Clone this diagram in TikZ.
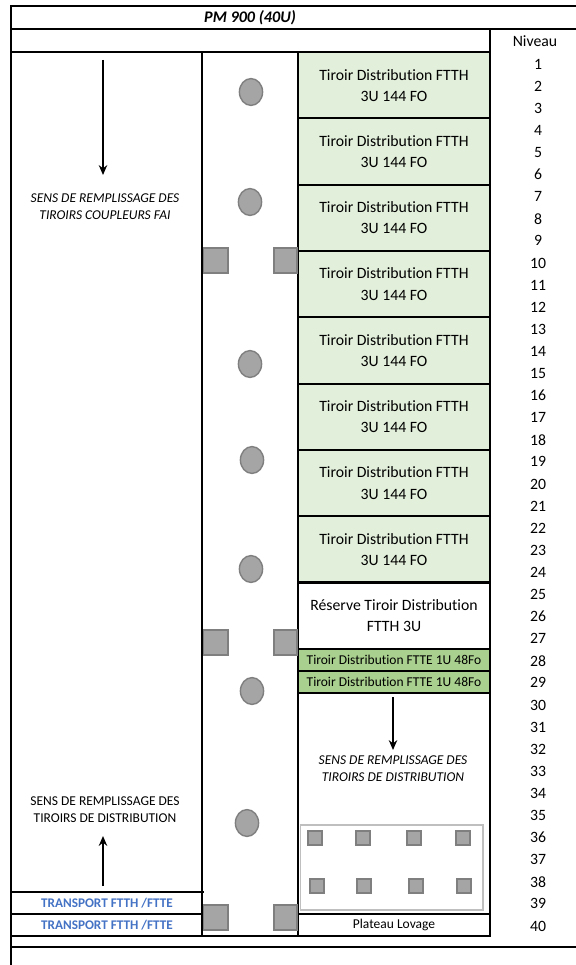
\documentclass[tikz,border=0pt]{standalone}
\usepackage{fontspec}
\setmainfont[Ligatures=NoCommon]{Carlito}
\usepackage{tikz}
\usetikzlibrary{arrows.meta,positioning}
\definecolor{ftth}{HTML}{E2EFDA}
\definecolor{ftte}{HTML}{A9D08E}
\definecolor{gris}{HTML}{A5A5A5}
\definecolor{grisfonce}{HTML}{7F7F7F}
\definecolor{grisclair}{HTML}{BFBFBF}
\definecolor{bleu}{HTML}{4472C4}

\begin{document}
\begin{tikzpicture}[x=0.025cm,y=-0.025cm,node distance=0pt,>=Stealth,
trait/.style={line width=1.5pt},
fleche/.style={-{Stealth[length=7pt,width=6pt]},line width=1.4pt},
tiroir/.style={draw,line width=1.5pt,outer sep=0pt,inner sep=0pt,align=center,minimum width=4.8cm,font=\fontsize{11.2}{15}\selectfont},
ftthbox/.style={tiroir,fill=ftth,minimum height=1.6575cm},
fttebox/.style={tiroir,fill=ftte,minimum height=0.5525cm,font=\fontsize{9.6}{11}\selectfont},
sens/.style={align=center,font=\fontsize{9.6}{12}\selectfont},
transport/.style={font=\bfseries\fontsize{9.4}{11}\selectfont,text=bleu},
passe/.style={fill=gris,draw=grisfonce,line width=1pt},
niv/.style={font=\fontsize{11.2}{13}\selectfont}]
\useasboundingbox (0,0) rectangle (576,965);
% cadre
\draw[trait] (11,965)--(11,6)--(576,6);
\draw[trait] (11,29)--(576,29);
\draw[trait] (11,52)--(490,52);
\draw[trait] (490,29)--(490,936);
\draw[trait] (202,52)--(202,936);
\draw[trait] (298,52)--(298,936);
\draw[trait] (11,936)--(490,936);
\draw[trait] (11,947)--(576,947);
\node[font=\bfseries\itshape\fontsize{11.5}{14}\selectfont] (titre) at (250,17.5) {PM 900 (40U)};
\node[niv] (niveau) at (535,41) {Niveau};
\foreach \n in {1,...,40}
  \node[niv] (niv\n) at (538,{53+(\n-0.5)*22.1}) {\n};
% tiroirs
\node[ftthbox,anchor=north] (t1) at (394,52) {Tiroir Distribution FTTH\\3U 144 FO};
\node[ftthbox,below=of t1] (t2) {Tiroir Distribution FTTH\\3U 144 FO};
\node[ftthbox,below=of t2] (t3) {Tiroir Distribution FTTH\\3U 144 FO};
\node[ftthbox,below=of t3] (t4) {Tiroir Distribution FTTH\\3U 144 FO};
\node[ftthbox,below=of t4] (t5) {Tiroir Distribution FTTH\\3U 144 FO};
\node[ftthbox,below=of t5] (t6) {Tiroir Distribution FTTH\\3U 144 FO};
\node[ftthbox,below=of t6] (t7) {Tiroir Distribution FTTH\\3U 144 FO};
\node[ftthbox,below=of t7] (t8) {Tiroir Distribution FTTH\\3U 144 FO};
\node[tiroir,fill=white,minimum height=1.6575cm,below=of t8] (reserve) {Réserve Tiroir Distribution\\FTTH 3U};
\node[fttebox,below=of reserve] (e1) {Tiroir Distribution FTTE 1U 48Fo};
\node[fttebox,below=of e1] (e2) {Tiroir Distribution FTTE 1U 48Fo};
\node[tiroir,minimum height=5.525cm,below=of e2] (zone) {};
\node[tiroir,minimum height=0.5525cm,below=of zone,font=\fontsize{9.6}{11}\selectfont] (lovage) {Plateau Lovage};
% sens de remplissage
\coordinate (h1) at (103,60);
\coordinate (b1) at (103,175);
\draw[fleche] (h1)--(b1);
\node[sens,font=\itshape\fontsize{9.6}{12}\selectfont] (fai) at (105,206.5) {SENS DE REMPLISSAGE DES\\TIROIRS COUPLEURS FAI};
\coordinate (h2) at (393,697);
\coordinate (b2) at (393,750);
\draw[fleche] (h2)--(b2);
\node[sens,font=\itshape\fontsize{9.6}{12}\selectfont] (distri) at (393,768.5) {SENS DE REMPLISSAGE DES\\TIROIRS DE DISTRIBUTION};
\node[sens] (distri2) at (105,809.5) {SENS DE REMPLISSAGE DES\\TIROIRS DE DISTRIBUTION};
\coordinate (b3) at (103,886);
\coordinate (h3) at (103,836);
\draw[fleche] (b3)--(h3);
% transport
\draw[trait] (11,892)--(204,892);
\draw[trait] (11,914)--(202,914);
\node[transport] (tr1) at (107,903) {TRANSPORT FTTH /FTTE};
\node[transport] (tr2) at (107,925) {TRANSPORT FTTH /FTTE};
% passe-cables
\foreach \x/\y in {251/92,250/202,250/364,252/460,251/569,252/691,247/823}
  \draw[passe] (\x,\y) ellipse [x radius=0.29cm,y radius=0.335cm];
\foreach \y in {248,630,905}{
  \draw[passe] (203.5,\y) rectangle (228,\y+25);
  \draw[passe] (274,\y) rectangle (297,\y+25);
}
% plateau
\draw[grisclair,line width=1.2pt] (300.5,825) rectangle (483,910);
\foreach \x in {315,363,414,463}
  \draw[passe] (\x-7,831) rectangle (\x+7,845);
\foreach \x in {317,364,416,464}
  \draw[passe] (\x-7,879) rectangle (\x+7,893);
\end{tikzpicture}
\end{document}
